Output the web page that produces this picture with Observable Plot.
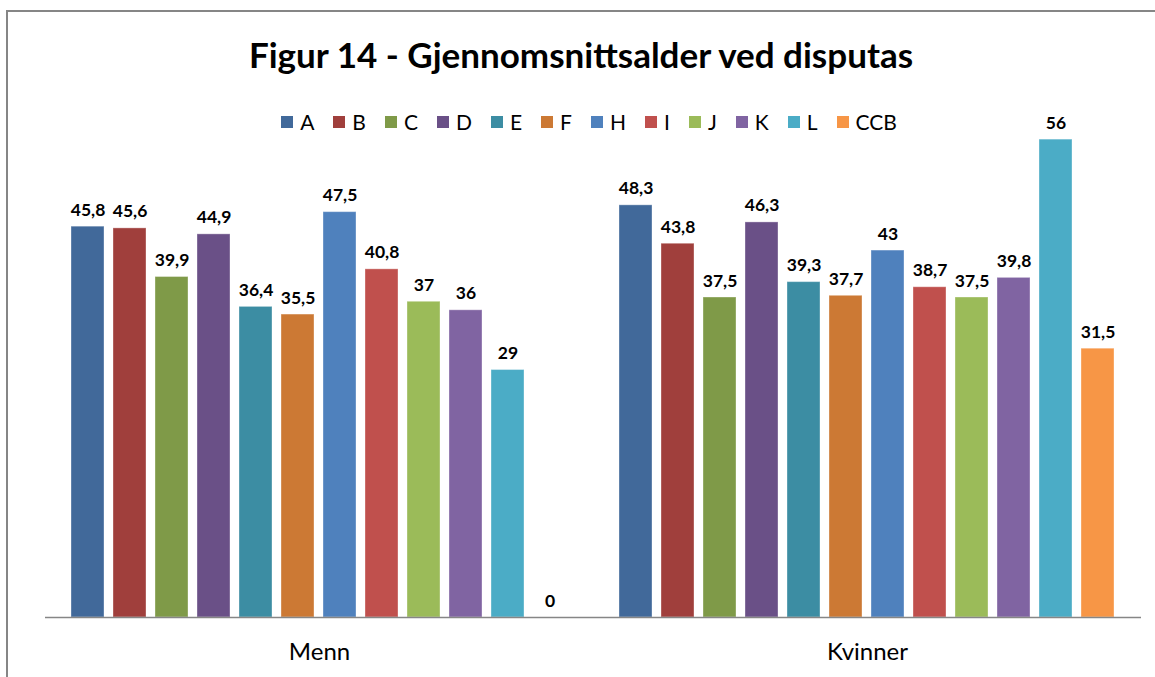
<!DOCTYPE html>
<html>
<head>
<meta charset="utf-8">
<script src="https://cdn.jsdelivr.net/npm/d3@7"></script>
<script src="https://cdn.jsdelivr.net/npm/@observablehq/plot@0.6"></script>
<style>
  html, body { margin: 0; padding: 0; background: #fff; }
  #wrap { position: relative; width: 1155px; height: 677px; overflow: hidden; font-family: Lato, "Open Sans", sans-serif; }
  #border { position: absolute; left: 6px; top: 10px; width: 1170px; height: 700px; border: 2px solid #868686; box-sizing: border-box; }
  #title { position: absolute; left: 0; top: 34px; width: 1162px; text-align: center; font-weight: bold; font-size: 35px; color: #000; line-height: 40px; }
  #legend { position: absolute; left: 0; top: 108px; width: 1178px; display: flex; justify-content: center; gap: 19px; font-size: 21px; line-height: 28px; color: #000; }
  #legend .item { display: flex; align-items: center; gap: 7px; }
  #legend .sw { width: 12px; height: 12px; display: inline-block; }
  #chart { position: absolute; left: 0; top: 0; }
</style>
</head>
<body>
<div id="wrap">
  <div id="border"></div>
  <div id="chart"></div>
  <div id="title">Figur 14 - Gjennomsnittsalder ved disputas</div>
  <div id="legend"></div>
</div>
<script>
const groups = ["Menn", "Kvinner"];
const series = ["A", "B", "C", "D", "E", "F", "H", "I", "J", "K", "L", "CCB"];
const menn = [45.8, 45.6, 39.9, 44.9, 36.4, 35.5, 47.5, 40.8, 37, 36, 29, 0];
const kvinner = [48.3, 43.8, 37.5, 46.3, 39.3, 37.7, 43, 38.7, 37.5, 39.8, 56, 31.5];
const colors = ["#41699A", "#A03F3C", "#7F9A48", "#6A5087", "#3C8DA3", "#CC7934", "#4F81BD", "#C0504D", "#9BBB59", "#8064A2", "#4BACC6", "#F79646"];

const data = groups.flatMap((g, gi) => series.map((s, i) => ({
  group: g, series: s, value: gi === 0 ? menn[i] : kvinner[i]
})));
const fmt = v => String(v).replace(".", ",");

const legend = document.getElementById("legend");
series.forEach((s, i) => {
  const it = document.createElement("div");
  it.className = "item";
  it.innerHTML = `<span class="sw" style="background:${colors[i]}"></span><span>${s}</span>`;
  legend.appendChild(it);
});

const chart = Plot.plot({
  width: 1155,
  height: 677,
  marginTop: 105,
  marginBottom: 60,
  marginLeft: 44,
  marginRight: 14,
  style: { fontFamily: "Lato, 'Open Sans', sans-serif", background: "transparent", color: "#000" },
  fx: { domain: groups, padding: 0, label: null, axis: null },
  x: { domain: series, paddingInner: 0.21, paddingOuter: 0.62, axis: null },
  y: { domain: [0, 60], axis: null },
  color: { domain: series, range: colors },
  marks: [
    Plot.barY(data, { fx: "group", x: "series", y: "value", fill: "series", stroke: "#ffffff", strokeOpacity: 0.35, strokeWidth: 1 }),
    Plot.ruleY([0], { stroke: "#868686", strokeWidth: 1.5 }),
    Plot.text(data, { fx: "group", x: "series", y: "value", text: d => fmt(d.value), lineAnchor: "bottom", dy: -11, fontWeight: "bold", fontSize: 17.5, fill: "#000" }),
    Plot.axisFx({ anchor: "bottom", tickSize: 0, tickPadding: 25, fontSize: 24, label: null, fill: "#000" })
  ]
});
document.getElementById("chart").appendChild(chart);
</script>
</body>
</html>
